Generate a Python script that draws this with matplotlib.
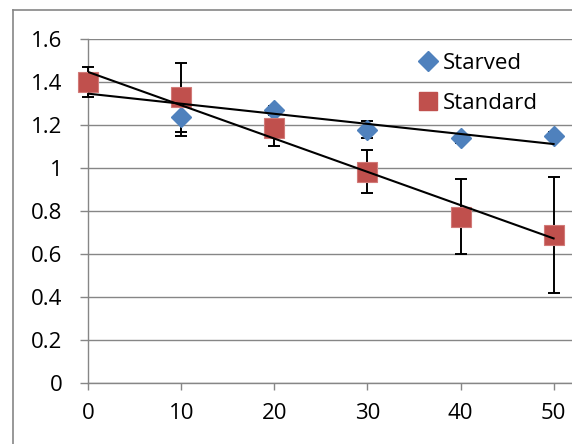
import matplotlib
matplotlib.use("Agg")
import matplotlib.pyplot as plt
from matplotlib.lines import Line2D
import numpy as np

plt.rcParams['font.family'] = ['Open Sans', 'DejaVu Sans']

# tijdstippen en metingen per groep
tijd = [0, 10, 20, 30, 40, 50]
starved = [1.40, 1.24, 1.27, 1.18, 1.14, 1.15]
starved_err = [0.03, 0.09, 0.02, 0.04, 0.02, 0.02]
standard = [1.40, 1.33, 1.186, 0.984, 0.775, 0.69]
standard_err = [0.07, 0.16, 0.08, 0.10, 0.175, 0.27]

blauw = "#4F81BD"
rood = "#C0504D"
grijs = "#868686"

fig = plt.figure(figsize=(5.72, 4.44), dpi=100)
ax = fig.add_axes([88.3 / 572, 1 - 383.3 / 444, 1 - 88.3 / 572, 344 / 444])

# rand om de hele grafiek
fig.add_artist(Line2D([13 / 572, 13 / 572], [0, 1 - 10 / 444], transform=fig.transFigure,
                      color=grijs, lw=1.2))
fig.add_artist(Line2D([13 / 572, 1], [1 - 10 / 444, 1 - 10 / 444], transform=fig.transFigure,
                      color=grijs, lw=1.2))

# foutbalken onder de punten
ax.errorbar(tijd, starved, yerr=starved_err, fmt="none", ecolor="black",
            elinewidth=1.4, capsize=4, capthick=1.4, zorder=3, clip_on=False)
ax.errorbar(tijd, standard, yerr=standard_err, fmt="none", ecolor="black",
            elinewidth=1.4, capsize=4, capthick=1.4, zorder=3, clip_on=False)
ax.plot(tijd, starved, linestyle="none", marker="D", markersize=10,
        color=blauw, zorder=4, clip_on=False)
ax.plot(tijd, standard, linestyle="none", marker="s", markersize=14.4,
        color=rood, markeredgecolor="#D27A78", markeredgewidth=0.8, zorder=6, clip_on=False)

# lineaire trendlijnen
x = np.array(tijd)
for reeks in (starved, standard):
    a, b = np.polyfit(x, reeks, 1)
    ax.plot([x[0], x[-1]], [b, a * x[-1] + b], color="black", lw=1.5, zorder=7)

ax.set_xlim(0, 51.98)
ax.set_ylim(0, 1.6)
ax.set_xticks(tijd)
ax.set_yticks(np.arange(0, 1.61, 0.2))
ax.set_yticklabels(["0", "0.2", "0.4", "0.6", "0.8", "1", "1.2", "1.4", "1.6"])

ax.grid(axis="y", color=grijs, lw=1.0, zorder=0)
ax.set_axisbelow(True)
for s in ("top", "right"):
    ax.spines[s].set_visible(False)
for s in ("left", "bottom"):
    ax.spines[s].set_color(grijs)
    ax.spines[s].set_linewidth(1.0)

ax.tick_params(axis="y", direction="out", length=5.5, width=1.0, color=grijs,
               labelsize=16, pad=13)
ax.tick_params(axis="x", direction="out", length=5, width=1.0, color=grijs,
               labelsize=16, pad=9)

handles = [Line2D([], [], linestyle="none", marker="D", markersize=10, color=blauw),
           Line2D([], [], linestyle="none", marker="s", markersize=13, color=rood)]
ax.legend(handles, ["Starved", "Standard"], loc="upper left",
          bbox_to_anchor=((417 - 88.3) / 483.7, (383.3 - 53) / 344),
          frameon=False, fontsize=16, handlelength=1.0, handletextpad=0.15,
          labelspacing=0.85, borderpad=0, borderaxespad=0)

fig.savefig("out.png", dpi=100)
